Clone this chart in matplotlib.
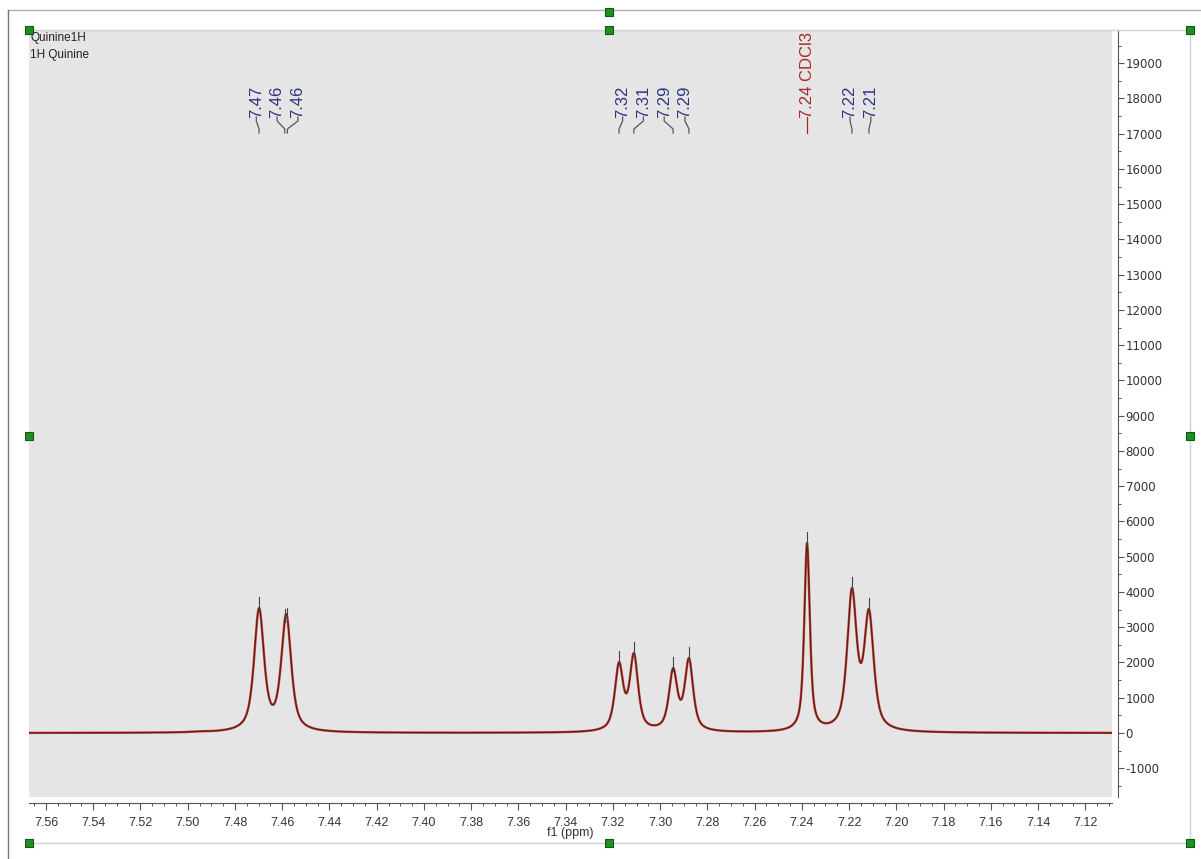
import numpy as np
import matplotlib
matplotlib.use("Agg")
import matplotlib.pyplot as plt
from matplotlib.patches import Rectangle
from matplotlib.lines import Line2D
from matplotlib.ticker import MultipleLocator, FormatStrFormatter
import matplotlib.transforms as mtransforms

plt.rcParams['axes.unicode_minus'] = False
NARROW = ["Liberation Sans", "DejaVu Sans"]

# ---------------- data ----------------
# resolved lines of the spectrum: position (ppm), observed height, half width (ppm)
line_ppm = [7.4950, 7.4698, 7.4583, 7.3174, 7.3111, 7.2945, 7.2878, 7.2378, 7.2188, 7.2116]
line_height = [50, 3545, 3375, 2013, 2269, 1843, 2127, 5388, 4112, 3517]
line_hwhm = [0.0035, 0.0025, 0.0025, 0.0021, 0.0021, 0.0021, 0.0021, 0.0014, 0.0024, 0.0024]

# peak picks and their labels
pick_ppm = [7.4698, 7.4589, 7.4578, 7.3174, 7.3111, 7.2945, 7.2878, 7.2378, 7.2188, 7.2116]
pick_text = ["7.47", "7.46", "7.46", "7.32", "7.31", "7.29", "7.29", "7.24 CDCl3", "7.22", "7.21"]
pick_group = [0, 0, 0, 1, 1, 1, 1, 2, 3, 3]
pick_solvent = [False, False, False, False, False, False, False, True, False, False]

x_ticks = [7.56, 7.54, 7.52, 7.50, 7.48, 7.46, 7.44, 7.42, 7.40, 7.38, 7.36, 7.34,
           7.32, 7.30, 7.28, 7.26, 7.24, 7.22, 7.20, 7.18, 7.16, 7.14, 7.12]
y_ticks = list(range(-1000, 20000, 1000))
x_range = (7.5672, 7.1087)
y_range = (-1815, 19940)
title_lines = ["Quinine1H", "1H Quinine"]
x_label = "f1 (ppm)"

# ---------------- spectrum from line list ----------------
eta = 0.7
def shape(x, c, w):
    lor = w**2 / (w**2 + (x - c)**2)
    gau = np.exp(-np.log(2) * ((x - c) / w)**2)
    return eta * lor + (1 - eta) * gau

c = np.array(line_ppm); h = np.array(line_height, float); w = np.array(line_hwhm)
M = np.array([[shape(ci, cj, wj) for cj, wj in zip(c, w)] for ci in c])
amp = np.linalg.solve(M, h)
ppm = np.linspace(x_range[0], x_range[1], 6000)
spec = sum(a * shape(ppm, cj, wj) for a, cj, wj in zip(amp, c, w))

def spec_at(p):
    return float(sum(a * shape(p, cj, wj) for a, cj, wj in zip(amp, c, w)))

# ---------------- figure ----------------
W, H = 1201, 859
fig = plt.figure(figsize=(W / 100, H / 100), dpi=100, facecolor="white")

def fx(px): return px / W
def fy(py): return 1 - py / H

ax = fig.add_axes([fx(29), fy(797), (1112 - 29) / W, (797 - 30) / H])
ax.set_facecolor("#e5e5e5")
ax.plot(ppm, spec, color="#c0392b", lw=1.7, solid_joinstyle="round", zorder=3)
ax.plot(ppm, spec, color="#4a1c1c", lw=0.7, zorder=4)
ax.set_xlim(*x_range)
ax.set_ylim(*y_range)

for s in ["top", "left"]:
    ax.spines[s].set_visible(False)
ax.spines["bottom"].set_position(("outward", 4.3))
ax.spines["right"].set_position(("outward", 4.3))
ax.spines["bottom"].set_color("#555555")
ax.spines["right"].set_color("#555555")
ax.yaxis.tick_right()
ax.set_xticks(x_ticks)
ax.xaxis.set_major_formatter(FormatStrFormatter("%.2f"))
ax.xaxis.set_minor_locator(MultipleLocator(0.005))
ax.set_yticks(y_ticks)
ax.yaxis.set_minor_locator(MultipleLocator(500))
ax.tick_params(axis="x", which="major", direction="out", length=5, width=0.8, color="#555555",
               labelsize=9, pad=5, labelcolor="#333333")
ax.tick_params(axis="x", which="minor", direction="out", length=2.5, width=0.7, color="#555555")
ax.tick_params(axis="y", which="major", direction="out", length=4, width=0.8, color="#555555",
               labelsize=8.5, pad=1.5, labelcolor="#333333")
ax.tick_params(axis="y", which="minor", direction="out", length=2.5, width=0.7, color="#555555")
for lab in ax.get_xticklabels():
    lab.set_family(NARROW)
ax.set_xlabel(x_label, fontsize=9, family=NARROW, color="#333333", labelpad=-1)

# header text
for i, t in enumerate(title_lines):
    ax.text(0.001, 0.990 - i * 0.022, t, transform=ax.transAxes, ha="left", va="center",
            fontsize=8.5, family=NARROW, color="#222222")

# peak pick markers
for p in pick_ppm:
    v = spec_at(p)
    ax.plot([p, p], [v - 80, v + 300], color="#444444", lw=0.8, zorder=5)

# label positions: spread evenly around each group's centre
spacing = 0.0088
label_pos = [0.0] * len(pick_ppm)
for g in sorted(set(pick_group)):
    idx = [i for i, gg in enumerate(pick_group) if gg == g]
    centre = np.mean([pick_ppm[i] for i in idx])
    n = len(idx)
    for k, i in enumerate(idx):
        label_pos[i] = centre + (n - 1) / 2 * spacing - k * spacing

blend = mtransforms.blended_transform_factory(ax.transData, ax.transAxes)
def ay(py): return (797 - py) / 767

for p, lp, t, solv in zip(pick_ppm, label_pos, pick_text, pick_solvent):
    col = "#a82828" if solv else "#2e3580"
    ax.text(lp, ay(118), t, transform=blend, rotation=90, ha="center", va="bottom",
            fontsize=12, family=NARROW, color=col)
    ax.plot([lp, lp, p, p], [ay(117), ay(121), ay(129), ay(133)], transform=blend,
            color="#555555" if not solv else "#a82828", lw=0.9, clip_on=False)

# ---------------- frame and selection handles ----------------
def fline(x0, y0, x1, y1, col, lw=1.0):
    fig.add_artist(Line2D([fx(x0), fx(x1)], [fy(y0), fy(y1)], transform=fig.transFigure,
                          color=col, lw=lw))

fline(8, 10, 1201, 10, "#b0b0b0")
fline(8, 10, 8, 859, "#777777")
fline(29, 30, 1190, 30, "#d0d0d0")
fline(1190, 30, 1190, 843, "#d0d0d0")
fline(29, 843, 1190, 843, "#d0d0d0")

for (hx, hy) in [(29, 30), (609, 12), (609, 30), (1190, 30), (29, 436), (1190, 436),
                 (29, 843), (609, 843), (1190, 843)]:
    fig.add_artist(Rectangle((fx(hx - 4), fy(hy + 4)), 8 / W, 8 / H, transform=fig.transFigure,
                             facecolor="#1f8f1f", edgecolor="#0d5c0d", lw=0.8, zorder=10))

fig.savefig("out.png", dpi=100)
